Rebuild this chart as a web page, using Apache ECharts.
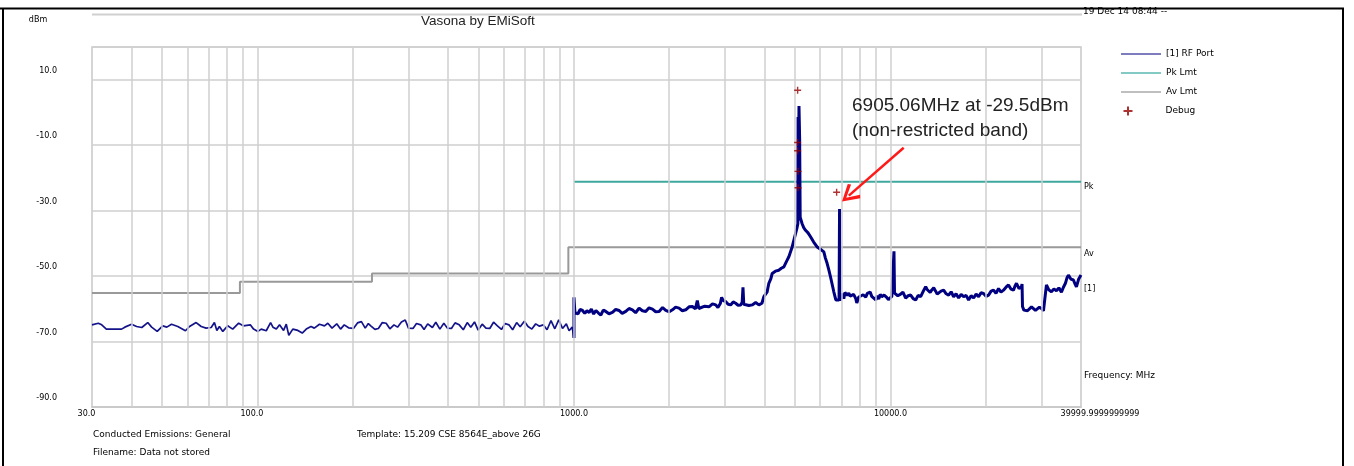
<!DOCTYPE html>
<html>
<head>
<meta charset="utf-8">
<script src="https://cdn.jsdelivr.net/npm/echarts@6.0.0/dist/echarts.min.js"></script>
<style>
html,body{margin:0;padding:0;background:#fff;}
#chart{width:1354px;height:466px;}
</style>
</head>
<body>
<div id="chart"></div>
<script>
// ---- data (frequency MHz, level dBm) ----
const rfLowSweep = [
[30,-64.9],[31.4,-64.4],[32.2,-64.9],[33.3,-66.2],[37.2,-66.2],[38.1,-65.6],[40.0,-64.7],[41.5,-65.4],[43.1,-65.7],[45.0,-64.2],
[46.3,-65.6],[48.2,-66.9],[50.2,-65.2],[51.7,-65.6],[53.5,-64.7],[56.0,-65.4],[59.2,-66.7],[61.0,-65.4],[64.0,-64.2],[66.4,-65.4],
[68.8,-65.9],[71.4,-65.7],[73.1,-64.2],[74.4,-66.6],[75.8,-65.4],[77.7,-66.9],[80.5,-65.2],[83.5,-66.2],[87.2,-64.4],[90.2,-65.2],
[94.9,-64.9],[97.2,-66.2],[100.3,-66.9],[102.8,-66.2],[106.6,-66.7],[110.0,-64.2],[111.9,-65.6],[114.7,-66.2],[117.4,-64.9],[120.9,-66.6],
[123.3,-64.7],[125.6,-68.1],[129.3,-66.2],[134.1,-66.6],[138.5,-67.4],[142.6,-66.2],[147.6,-65.4],[151.2,-65.9],[157.0,-64.7],[162.8,-65.2],
[166.8,-64.4],[172,-65.9],[178,-64.6],[183,-66.2],[188,-64.9],[194,-65.8],[201,-66.0],[207,-64.3],[213,-63.9],[219,-65.9],
[224,-64.5],[228,-65.2],[235,-66.3],[241,-66.0],[248,-64.2],[255,-64.4],[262,-66.1],[270,-64.9],[277,-65.6],[285,-64.0],
[293,-63.4],[300,-65.9],[310,-66.0],[318,-64.5],[328,-64.9],[336,-66.3],[345,-64.6],[357,-65.7],[366,-64.1],[377,-66.2],
[388,-64.4],[398,-65.9],[410,-66.0],[421,-64.3],[434,-64.9],[447,-66.4],[460,-64.2],[472,-65.6],[485,-64.0],[498,-66.5],
[513,-64.7],[527,-65.9],[542,-66.0],[557,-64.1],[573,-65.2],[590,-66.3],[606,-64.5],[623,-64.9],[640,-66.4],[659,-64.2],
[676,-65.5],[697,-63.8],[716,-65.4],[736,-66.2],[757,-64.6],[778,-65.3],[800,-64.9],[822,-66.4],[846,-63.6],[870,-66.1],
[895,-63.4],[920,-66.0],[946,-64.6],[965,-66.7],[987,-65.6],[999,-68.9]
];
const rfHighSweep = [
[1000,-68.9],[1000,-56.5],[1007,-61.2],[1014,-60.8],[1030,-61.5],[1046,-60.2],[1064,-60.5],[1082,-61.4],[1099,-60.6],[1117,-61.1],[1135,-60.1],
[1154,-61.6],[1173,-60.5],[1195,-61.3],[1216,-61.9],[1238,-60.4],[1261,-60.8],[1290,-61.5],[1323,-61.1],[1355,-60.2],[1389,-60.5],
[1420,-61.4],[1458,-60.8],[1493,-59.9],[1530,-60.3],[1566,-61.2],[1606,-59.8],[1645,-60.6],[1686,-60.8],[1727,-59.7],[1770,-60.1],
[1812,-60.9],[1858,-60.8],[1905,-59.6],[1950,-60.5],[2000,-60.9],[2047,-60.3],[2095,-59.5],[2148,-59.8],[2200,-60.6],[2255,-60.3],
[2310,-59.4],[2366,-59.3],[2420,-60.0],[2453,-57.5],[2480,-59.9],[2514,-59.8],[2590,-59.2],[2670,-59.4],[2740,-58.5],[2805,-58.8],
[2850,-59.6],[2871,-59.3],[2900,-58.4],[2928,-56.5],[2960,-57.4],[3015,-57.8],[3070,-58.6],[3126,-58.8],[3185,-57.9],[3243,-58.3],
[3300,-58.9],[3363,-58.8],[3400,-58.0],[3420,-53.4],[3440,-58.6],[3489,-58.3],[3570,-59.0],[3657,-58.8],[3750,-58.1],[3840,-58.8],
[3925,-58.3],[3981,-56.3],[4078,-54.8],[4128,-52.2],[4190,-50.8],[4230,-49.2],[4330,-48.5],[4440,-48.2],[4520,-47.6],[4605,-47.2],
[4690,-45.6],[4775,-44.1],[4891,-41.1],[5013,-37.0],[5060,-35.5],[5098,-34.0],[5107,-1.4],[5115,-33.0],[5140,2.0],[5165,-8.0],
[5185,-32.0],[5259,-34.0],[5320,-35.2],[5391,-36.0],[5490,-36.8],[5591,-38.0],[5720,-39.6],[5866,-41.1],[6010,-41.8],[6159,-42.6],
[6230,-44.5],[6307,-46.1],[6384,-48.0],[6464,-50.2],[6525,-50.3],[6622,-54.8],[6720,-57.3],[6783,-57.8],[6880,-57.3],[6905,-29.5],
[6925,-57.5],[6970,-56.7],[7050,-55.4],[7122,-56.9],[7180,-55.0],[7225,-54.6],[7300,-55.9],[7385,-55.2],[7460,-56.1],[7548,-56.7],
[7650,-55.6],[7770,-56.9],[7827,-58.2],[7940,-56.4],[8055,-56.7],[8200,-55.7],[8355,-56.4],[8450,-55.3],[8540,-55.8],[8630,-54.9],
[8727,-56.2],[8850,-56.6],[8985,-57.3],[9080,-56.0],[9183,-57.0],[9280,-55.6],[9386,-56.3],[9550,-55.8],[9730,-56.5],[9850,-57.2],
[9945,-57.8],[10100,-56.2],[10200,-55.6],[10260,-42.4],[10300,-55.2],[10386,-54.8],[10550,-56.0],[10770,-55.5],[10950,-54.9],[11171,-56.7],
[11380,-56.0],[11585,-55.8],[11800,-56.9],[12015,-57.3],[12230,-55.9],[12460,-56.3],[12700,-54.6],[12920,-53.2],[13060,-54.1],[13204,-53.8],
[13350,-55.0],[13493,-54.3],[13700,-53.6],[13890,-54.6],[14050,-55.5],[14196,-55.8],[14450,-54.6],[14723,-54.3],[15000,-55.4],[15267,-55.8],
[15550,-54.8],[15834,-56.3],[16120,-55.4],[16420,-56.7],[16720,-55.6],[17028,-56.3],[17340,-55.9],[17656,-57.3],[17980,-56.0],[18310,-56.7],
[18650,-55.5],[18990,-56.3],[19330,-55.1],[19683,-55.3],[20050,-56.2],[20412,-55.8],[20800,-54.6],[21168,-54.3],[21550,-55.3],[21951,-53.8],
[22350,-54.9],[22761,-54.3],[23180,-53.4],[23604,-52.7],[24050,-54.0],[24478,-54.3],[24750,-53.0],[25017,-52.2],[25480,-53.8],[25943,-53.2],
[26050,-52.4],[26133,-59.3],[26400,-60.4],[26705,-59.8],[27100,-60.6],[27492,-60.1],[27900,-59.4],[28302,-59.6],[28720,-60.5],[29138,-60.3],
[29560,-59.5],[30000,-59.9],[30440,-60.6],[30882,-60.3],[31108,-52.7],[31650,-54.2],[32256,-54.8],[32850,-53.9],[33449,-54.5],[34050,-53.6],
[34691,-54.9],[35200,-53.4],[35715,-52.2],[36100,-50.6],[36503,-49.7],[37150,-50.9],[37857,-51.2],[38300,-52.4],[38688,-53.3],[39300,-51.0],
[40000,-49.7]
];
const pkLimit = [[1000,-21.2],[40000,-21.2]];
const avLimit = [[30,-55.2],[88,-55.2],[88,-51.7],[230,-51.7],[230,-49.2],[960,-49.2],[960,-41.2],[40000,-41.2]];
const debugPoints = [[5090,6.8],[5090,-9.2],[5090,-11.7],[5105,-18.0],[5105,-23.0],[6760,-24.4]];
const arrowFrom = [11010,-10.8];
const arrowTo = [7385,-25.4];
const gridFreqs = [40,50,60,70,80,90,100,200,300,400,500,600,700,800,900,1000,2000,3000,4000,5000,6000,7000,8000,9000,10000,20000,30000];
const yTickLevels = [-90,-70,-50,-30,-10,10];
const xTickValues = [30.0001,100,1000,10000,39999.99];
const xTickText = ['30.0','100.0','1000.0','10000.0','39999.9999999999'];
const seriesNames = ['[1] RF Port','Pk Lmt','Av Lmt','Debug'];
const noteText = '6905.06MHz at -29.5dBm\n(non-restricted band)';

const SMALL = 'DejaVu Sans';
const lineIcon = 'path://M0,0H40V1.6H0Z';
const chart = echarts.init(document.getElementById('chart'), null, {renderer:'canvas'});
chart.setOption({
  animation:false,
  backgroundColor:'#ffffff',
  title:[
    {text:'Vasona by EMiSoft', left:421, top:14, padding:0, textStyle:{fontFamily:'Liberation Sans', fontSize:13.5, fontWeight:'normal', color:'#222'}},
    {text:'19 Dec 14 08:44 --', left:1083, top:7.5, padding:0, textStyle:{fontFamily:SMALL, fontSize:9, fontWeight:'normal', color:'#000'}},
    {text:'Conducted Emissions: General', left:93, top:430.5, padding:0, textStyle:{fontFamily:SMALL, fontSize:9, fontWeight:'normal', color:'#000'}},
    {text:'Filename: Data not stored', left:93, top:448.5, padding:0, textStyle:{fontFamily:SMALL, fontSize:9, fontWeight:'normal', color:'#000'}},
    {text:'Template: 15.209 CSE 8564E_above 26G', left:357, top:430.5, padding:0, textStyle:{fontFamily:SMALL, fontSize:9, fontWeight:'normal', color:'#000'}},
    {text:'Frequency: MHz', left:1084, top:371.5, padding:0, textStyle:{fontFamily:SMALL, fontSize:9, fontWeight:'normal', color:'#000'}},
    {text:noteText, left:852, top:93.5, padding:0, textStyle:{fontFamily:'Liberation Sans', fontSize:19, lineHeight:25, fontWeight:'normal', color:'#222'}}
  ],
  legend:[
    {orient:'vertical', left:1116, top:43, itemWidth:40, itemHeight:12, itemGap:7, symbolKeepAspect:true,
     data:[{name:seriesNames[0], icon:lineIcon},{name:seriesNames[1], icon:lineIcon},{name:seriesNames[2], icon:lineIcon}],
     textStyle:{fontFamily:SMALL, fontSize:9, color:'#000', lineHeight:12}},
    {orient:'vertical', left:1116, top:99, itemWidth:9, itemHeight:9, itemGap:7,
     data:[seriesNames[3]], textStyle:{fontFamily:SMALL, fontSize:9, color:'#000', lineHeight:12, padding:[0,0,0,28]}}
  ],
  grid:{left:92, top:47, width:989, height:360, show:true, borderColor:'#c8c8c8', borderWidth:1.5, containLabel:false},
  xAxis:{
    type:'log', logBase:10, min:30, max:40000,
    axisLine:{show:true, onZero:false, lineStyle:{color:'#c8c8c8', width:1.5}},
    axisTick:{show:false},
    splitLine:{show:false},
    axisLabel:{
      customValues:xTickValues, margin:3, fontFamily:SMALL, fontSize:8, color:'#000',
      formatter:function(v){
        let i = 0, best = Infinity;
        xTickValues.forEach(function(t,k){const d=Math.abs(Math.log10(t)-Math.log10(v)); if(d<best){best=d;i=k;}});
        if(i===4) return '{e|'+xTickText[i]+'}';
        if(i<2) return '{s|'+xTickText[i]+'}';
        return xTickText[i];
      },
      rich:{
        e:{fontFamily:SMALL, fontSize:8, color:'#000', padding:[0,0,0,38]},
        s:{fontFamily:SMALL, fontSize:8, color:'#000', padding:[0,11,0,0]}
      }
    }
  },
  yAxis:{
    type:'value', min:-90, max:20, interval:20,
    name:'dBm', nameLocation:'end', nameGap:23,
    nameTextStyle:{fontFamily:SMALL, fontSize:8, color:'#000', padding:[0,108,0,0]},
    axisLine:{show:false}, axisTick:{show:false},
    splitLine:{show:true, lineStyle:{color:'#cfcfcf', width:1.5}},
    axisLabel:{
      customValues:yTickLevels,
      margin:35, fontFamily:SMALL, fontSize:8, color:'#000', verticalAlign:'bottom', padding:[0,0,5,0],
      formatter:function(v){ return v.toFixed(1); }
    }
  },
  series:[
    {name:'grid', type:'line', data:[], silent:true, z:1,
     markLine:{silent:true, symbol:['none','none'], label:{show:false}, animation:false,
       lineStyle:{color:'#cfcfcf', width:1.5, type:'solid'},
       data:gridFreqs.map(function(f){return {xAxis:f};})}},
    {name:seriesNames[2], type:'line', data:avLimit, showSymbol:false, symbol:'none', z:3,
     lineStyle:{color:'#999999', width:2}, itemStyle:{color:'#aaaaaa'},
     endLabel:{show:true, formatter:'Av', distance:3, offset:[0,6.5], fontFamily:SMALL, fontSize:8, color:'#000'}},
    {name:seriesNames[1], type:'line', data:pkLimit, showSymbol:false, symbol:'none', z:3,
     lineStyle:{color:'#3fa89e', width:2}, itemStyle:{color:'#5ab8b0'},
     endLabel:{show:true, formatter:'Pk', distance:3, offset:[0,5], fontFamily:SMALL, fontSize:8, color:'#000'}},
    {name:seriesNames[0], type:'line', data:rfLowSweep, showSymbol:false, symbol:'none', z:4,
     lineStyle:{color:'#14148a', width:1.7}, itemStyle:{color:'#5050a8'}},
    {name:seriesNames[0], type:'line', data:rfHighSweep, showSymbol:false, symbol:'none', z:4,
     lineStyle:{color:'#000080', width:3}, itemStyle:{color:'#5050a8'},
     endLabel:{show:true, formatter:'[1]', distance:3, offset:[0,14], fontFamily:SMALL, fontSize:8, color:'#000'},
     markLine:{silent:true, z:10, symbol:['none','path://M5,0 L10,9 L8.6,10.2 L5,3.2 L1.4,10.2 L0,9 Z'], symbolSize:[19,18],
       label:{show:false}, lineStyle:{color:'#ff1a1a', width:2.5, type:'solid'},
       data:[[{coord:arrowFrom},{coord:arrowTo}]]}},
    {name:seriesNames[3], type:'scatter', data:debugPoints, z:6,
     symbol:'path://M0,4H8M4,0V8', symbolSize:7,
     itemStyle:{color:'none', borderColor:'#990000', borderWidth:1.4}}
  ],
  graphic:[
    {type:'line', z:100, shape:{x1:92,y1:14.5,x2:1082,y2:14.5}, style:{stroke:'#d0d0d0', lineWidth:2}},
    {type:'line', z:100, shape:{x1:0,y1:8.5,x2:1344,y2:8.5}, style:{stroke:'#000', lineWidth:2}},
    {type:'line', z:100, shape:{x1:3,y1:8,x2:3,y2:466}, style:{stroke:'#000', lineWidth:2}},
    {type:'line', z:100, shape:{x1:1343,y1:8,x2:1343,y2:466}, style:{stroke:'#000', lineWidth:2}}
  ]
});
</script>
</body>
</html>
